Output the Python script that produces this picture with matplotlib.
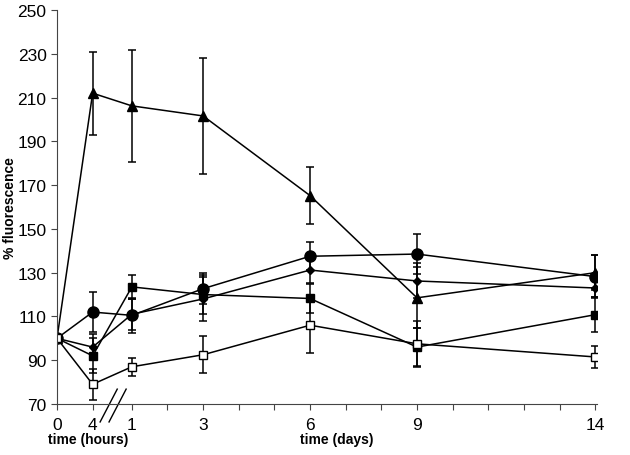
import matplotlib
matplotlib.use("Agg")
import matplotlib.pyplot as plt
import numpy as np

plt.rcParams['font.family'] = ['Liberation Sans', 'DejaVu Sans']

# time points: 0 h, 4 h, then days 1, 3, 6, 9, 14
tick_labels = ['0', '4', '1', '3', '6', '9', '14']
hours = [0, 4]
days = [1, 3, 6, 9, 14]

# % fluorescence for each series (mean, error)
tri_y = [100, 212, 206.2, 201.6, 165.2, 118.5, 130.0]
tri_err = [0, 19, 25.5, 26.5, 13, 14, 8]
circ_y = [100, 112, 110.5, 122.7, 137.5, 138.5, 128.2]
circ_err = [0, 9, 8, 7, 6.5, 9, 10]
diam_y = [100, 96, 111, 118, 131.2, 126.2, 123.0]
diam_err = [0, 6, 7, 10, 6, 8, 4]
sq_y = [100, 92, 123.5, 120, 118.2, 96, 110.8]
sq_err = [0, 8, 5.5, 9, 6.5, 8.5, 8]
osq_y = [100, 79, 87, 92.5, 106, 97.5, 91.5]
osq_err = [0, 7, 4, 8.5, 12.5, 10.5, 5]

# axis position: hours mapped to 0..1, days shifted
x_hours = [h / 4.0 for h in hours]
x_days = [d + 1.1 for d in days]
x = np.array(x_hours + x_days)

fig = plt.figure(figsize=(6.3, 4.56), dpi=100)
ax = fig.add_axes([57 / 630, 1 - 405 / 456, 540 / 630, 394 / 456])

series = [
    (tri_y, tri_err, dict(marker='^', ms=7, mfc='black')),
    (circ_y, circ_err, dict(marker='o', ms=8, mfc='black')),
    (diam_y, diam_err, dict(marker='D', ms=4.5, mfc='black')),
    (sq_y, sq_err, dict(marker='s', ms=5.5, mfc='black')),
    (osq_y, osq_err, dict(marker='s', ms=5.5, mfc='white')),
]
for y, e, st in series:
    ax.errorbar(x, y, yerr=e, color='black', lw=1.1, elinewidth=1.1,
                capsize=3, capthick=1.1, mec='black', **st)

ax.set_xlim(0, 15.15)
ax.set_ylim(70, 250)
ax.set_yticks(np.arange(70, 251, 20))
ax.set_xticks(x)
ax.set_xticklabels(tick_labels)
ax.set_xticks([d + 1.1 for d in range(2, 14) if d not in days], minor=True)
ax.tick_params(axis='both', which='both', direction='out', length=4,
               width=0.8, labelsize=12.5, color='#444444')
ax.tick_params(axis='x', pad=5)
for s in ['top', 'right']:
    ax.spines[s].set_visible(False)
for s in ['left', 'bottom']:
    ax.spines[s].set_color('#444444')
    ax.spines[s].set_linewidth(0.8)

# axis break marks
for dx in (0, 0.25):
    ax.plot([1.21 + dx, 1.69 + dx], [61.8, 76.8], color='black', lw=1,
            clip_on=False)

fig.text(10 / 630, 1 - 208 / 456, '% fluorescence', fontsize=10,
         fontweight='bold', rotation=90, va='center', ha='center')
fig.text(48 / 630, 1 - 440 / 456, 'time (hours)', fontsize=10,
         fontweight='bold', va='center', ha='left')
fig.text(300 / 630, 1 - 440 / 456, 'time (days)', fontsize=10,
         fontweight='bold', va='center', ha='left')

fig.savefig('out.png', dpi=100)
